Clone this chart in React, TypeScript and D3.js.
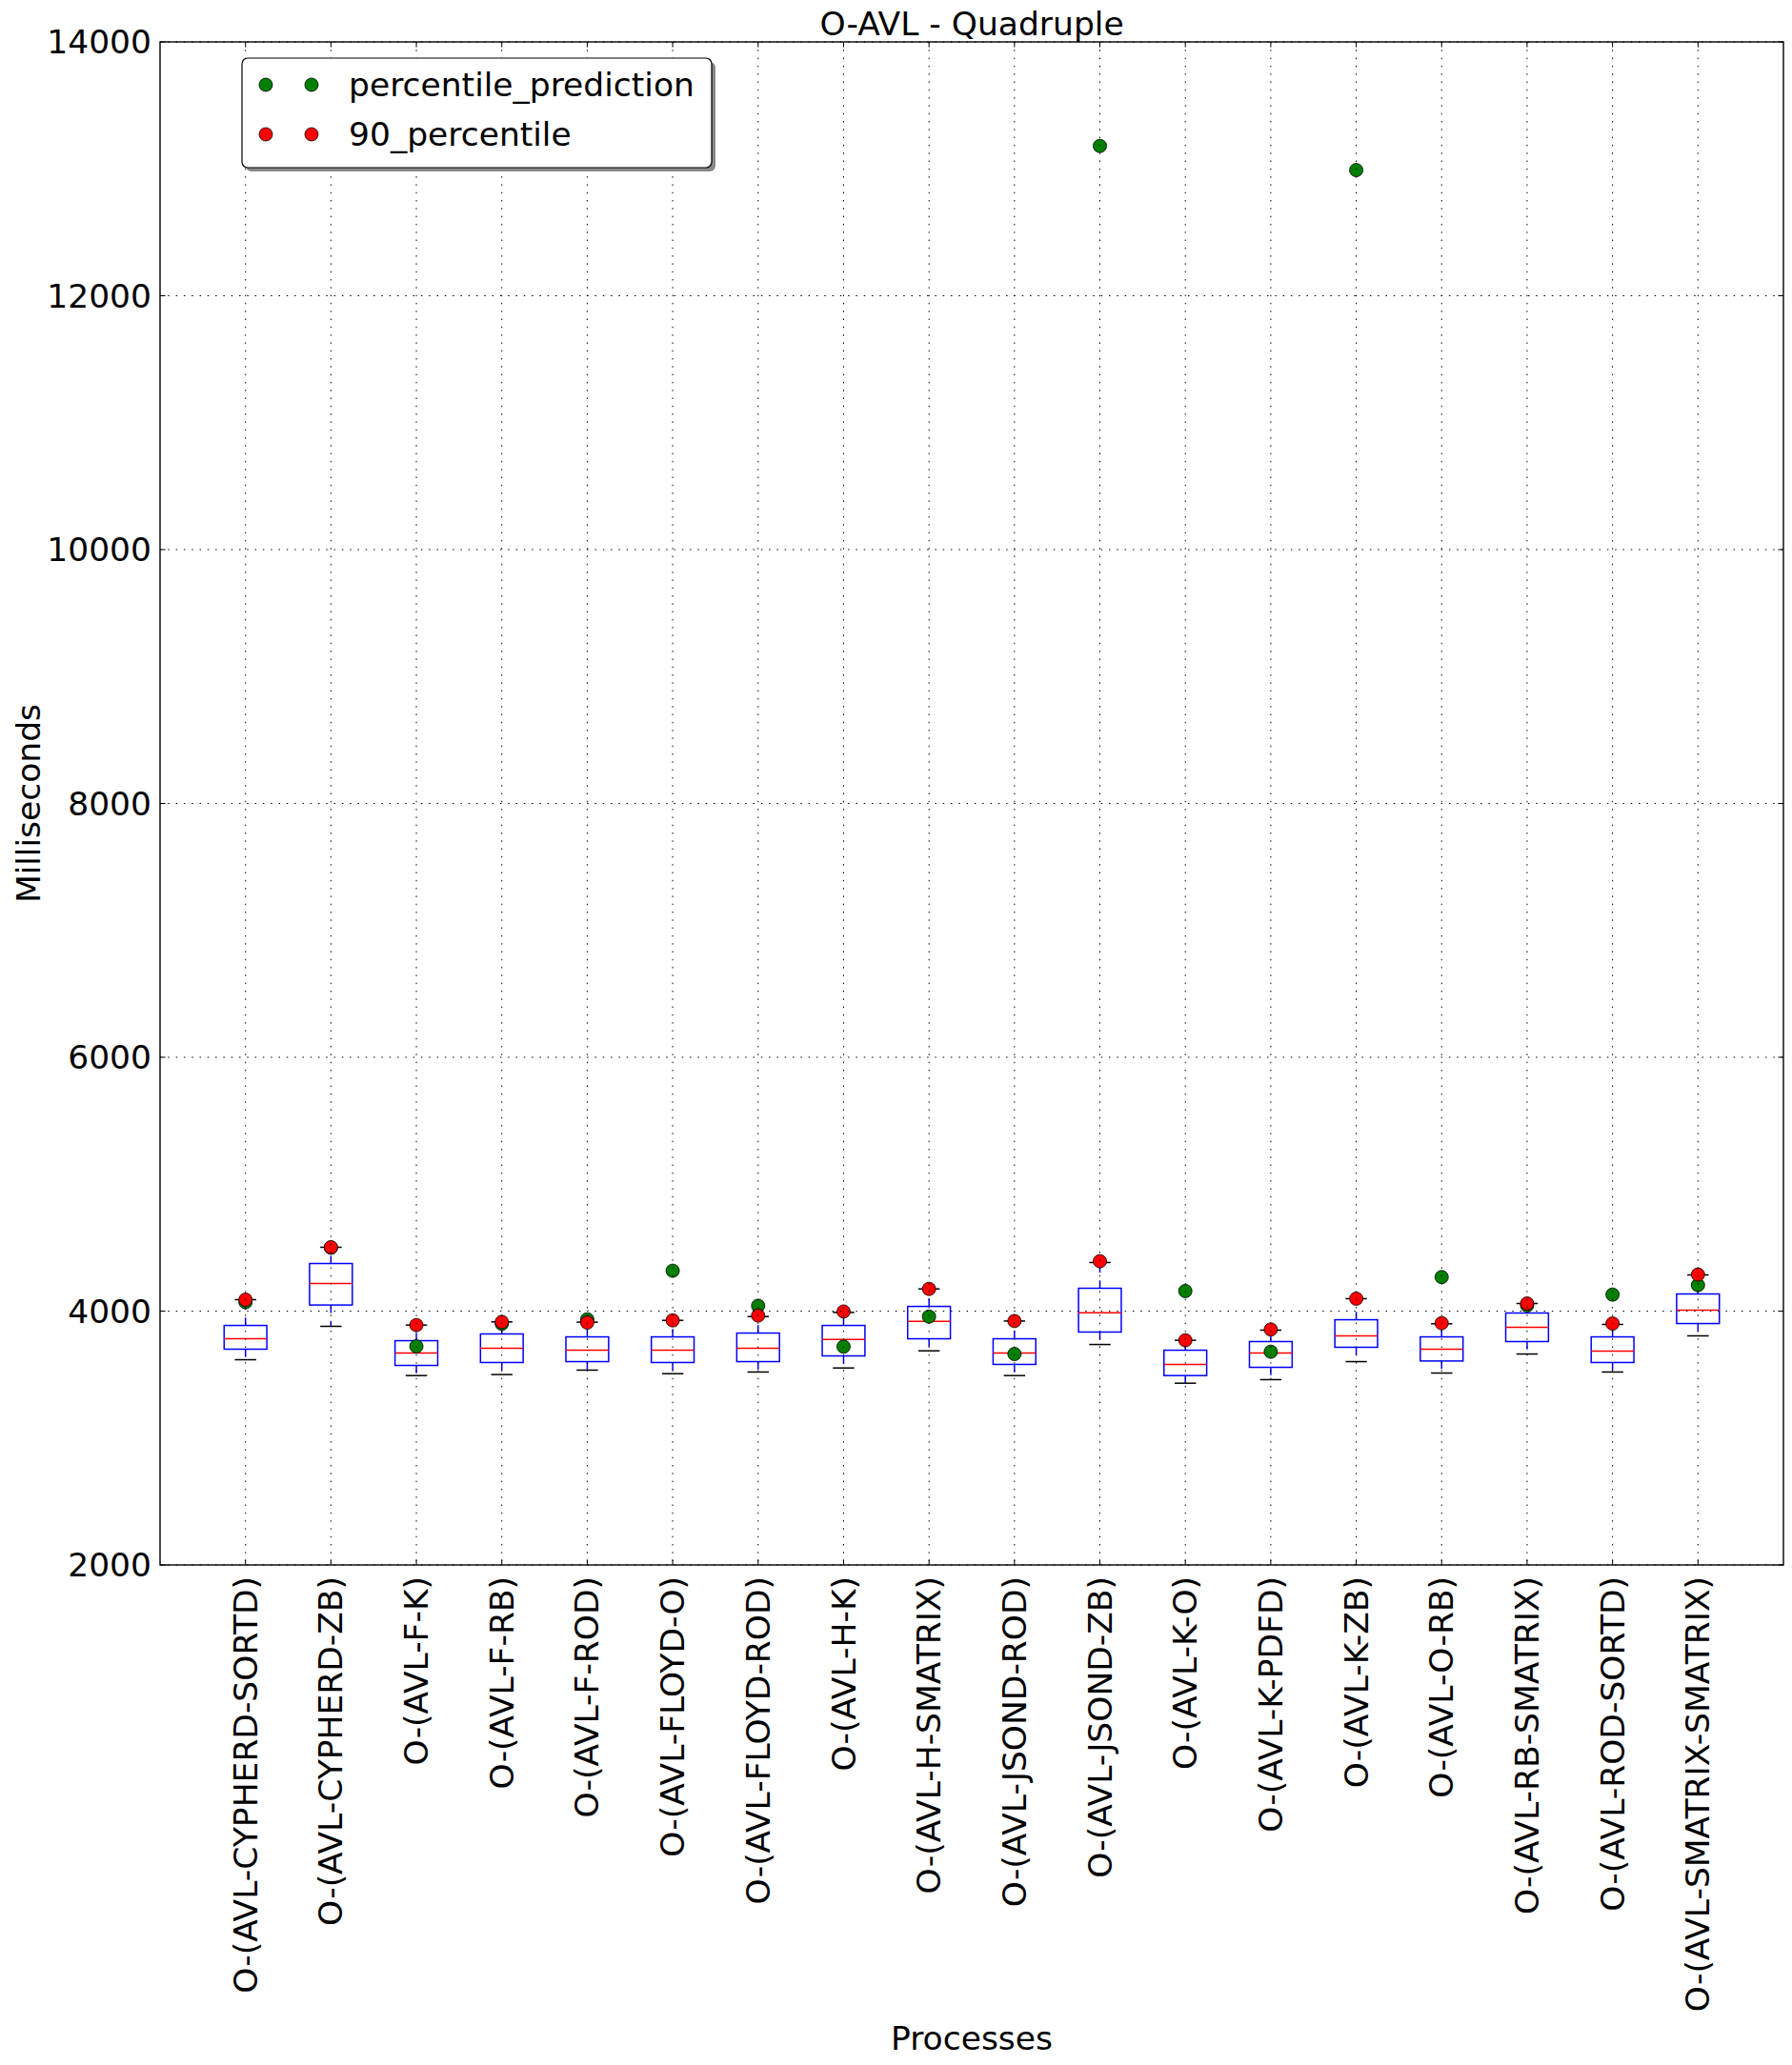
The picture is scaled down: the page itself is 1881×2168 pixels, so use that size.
import React from "react";
import * as d3 from "d3";

const categories = [
  "O-(AVL-CYPHERD-SORTD)", "O-(AVL-CYPHERD-ZB)", "O-(AVL-F-K)", "O-(AVL-F-RB)",
  "O-(AVL-F-ROD)", "O-(AVL-FLOYD-O)", "O-(AVL-FLOYD-ROD)", "O-(AVL-H-K)",
  "O-(AVL-H-SMATRIX)", "O-(AVL-JSOND-ROD)", "O-(AVL-JSOND-ZB)", "O-(AVL-K-O)",
  "O-(AVL-K-PDFD)", "O-(AVL-K-ZB)", "O-(AVL-O-RB)", "O-(AVL-RB-SMATRIX)",
  "O-(AVL-ROD-SORTD)", "O-(AVL-SMATRIX-SMATRIX)",
];
const whiskerLow = [3617, 3880, 3492, 3500, 3535, 3507, 3520, 3552, 3687, 3492, 3737, 3432, 3460, 3602, 3512, 3662, 3520, 3805];
const q1 = [3700, 4048, 3572, 3595, 3602, 3595, 3602, 3647, 3782, 3580, 3835, 3492, 3557, 3715, 3607, 3760, 3595, 3902];
const median = [3782, 4218, 3670, 3707, 3692, 3692, 3707, 3777, 3920, 3670, 3987, 3580, 3670, 3805, 3700, 3872, 3685, 4007];
const q3 = [3887, 4375, 3767, 3820, 3797, 3797, 3827, 3887, 4037, 3782, 4180, 3692, 3760, 3932, 3797, 3985, 3797, 4135];
const whiskerHigh = [4090, 4503, 3890, 3915, 3913, 3927, 3957, 3990, 4175, 3922, 4383, 3770, 3850, 4098, 3900, 4060, 3895, 4285];
const p90 = [4090, 4503, 3890, 3915, 3910, 3927, 3965, 3997, 4175, 3922, 4393, 3770, 3855, 4098, 3905, 4060, 3902, 4288];
const prediction = [4070, 4500, 3722, 3900, 3935, 4318, 4042, 3720, 3957, 3662, 13180, 4158, 3680, 12990, 4268, 4045, 4130, 4205];
const yTicks = [2000, 4000, 6000, 8000, 10000, 12000, 14000];
const legendLabels = ["percentile_prediction", "90_percentile"];
const legendColors = ["#007f00", "#ff0000"];

const W = 1881, H = 2168;
const L = 168, R = 1872, T = 44, B = 1643;
const FONT = "DejaVu Sans, sans-serif";
const FS = 34.5;

export default function App() {
  const x = d3.scaleLinear().domain([0, categories.length + 1]).range([L, R]);
  const y = d3.scaleLinear().domain([2000, 14000]).range([B, T]);
  const step = x(1) - x(0);
  const bw = step * 0.5;
  const cw = step * 0.25;
  const idx = d3.range(categories.length);
  const r = 7;

  return (
    <svg width={W} height={H} style={{ position: "absolute", left: 0, top: 0, background: "#fff" }} fontFamily={FONT}>
      <rect x={0} y={0} width={W} height={H} fill="#fff" />
      {idx.map((i) => {
        const cx = x(i + 1);
        return (
          <g key={"b" + i}>
            <line x1={cx} x2={cx} y1={y(q3[i])} y2={y(whiskerHigh[i])} stroke="#0000ff" strokeWidth={1.5} strokeDasharray="8.3,8.3" />
            <line x1={cx} x2={cx} y1={y(q1[i])} y2={y(whiskerLow[i])} stroke="#0000ff" strokeWidth={1.5} strokeDasharray="8.3,8.3" />
            <line x1={cx - cw / 2} x2={cx + cw / 2} y1={y(whiskerHigh[i])} y2={y(whiskerHigh[i])} stroke="#000" strokeWidth={1.5} />
            <line x1={cx - cw / 2} x2={cx + cw / 2} y1={y(whiskerLow[i])} y2={y(whiskerLow[i])} stroke="#000" strokeWidth={1.5} />
            <rect x={cx - bw / 2} y={y(q3[i])} width={bw} height={y(q1[i]) - y(q3[i])} fill="none" stroke="#0000ff" strokeWidth={1.5} />
            <line x1={cx - bw / 2} x2={cx + bw / 2} y1={y(median[i])} y2={y(median[i])} stroke="#ff0000" strokeWidth={1.5} />
          </g>
        );
      })}
      {idx.map((i) => (
        <circle key={"g" + i} cx={x(i + 1)} cy={y(prediction[i])} r={r} fill={legendColors[0]} stroke="#000" strokeWidth={0.8} />
      ))}
      {idx.map((i) => (
        <circle key={"p" + i} cx={x(i + 1)} cy={y(p90[i])} r={r} fill={legendColors[1]} stroke="#000" strokeWidth={0.8} />
      ))}
      {idx.map((i) => (
        <line key={"gx" + i} x1={x(i + 1)} x2={x(i + 1)} y1={T} y2={B} stroke="#000" strokeWidth={1} strokeDasharray="1.5,6.8" />
      ))}
      {yTicks.map((t) => (
        <line key={"gy" + t} x1={L} x2={R} y1={y(t)} y2={y(t)} stroke="#000" strokeWidth={1} strokeDasharray="1.5,6.8" />
      ))}
      {yTicks.map((t) => (
        <g key={"ty" + t}>
          <line x1={L} x2={L + 5.6} y1={y(t)} y2={y(t)} stroke="#000" strokeWidth={1} />
          <line x1={R} x2={R - 5.6} y1={y(t)} y2={y(t)} stroke="#000" strokeWidth={1} />
          <text x={L - 9} y={y(t)} dy="0.36em" textAnchor="end" fontSize={FS} fill="#000">{t}</text>
        </g>
      ))}
      {idx.map((i) => (
        <g key={"tx" + i}>
          <line x1={x(i + 1)} x2={x(i + 1)} y1={B} y2={B - 5.6} stroke="#000" strokeWidth={1} />
          <line x1={x(i + 1)} x2={x(i + 1)} y1={T} y2={T + 5.6} stroke="#000" strokeWidth={1} />
          <text transform={`translate(${x(i + 1)},${B + 12}) rotate(-90)`} dy="0.35em" textAnchor="end" fontSize={FS} fill="#000">{categories[i]}</text>
        </g>
      ))}
      <rect x={L} y={T} width={R - L} height={B - T} fill="none" stroke="#000" strokeWidth={1.4} />
      <rect x={258} y={65} width={493} height={115} rx={6} fill="#888" />
      <rect x={254} y={61} width={493} height={115} rx={6} fill="#fff" stroke="#000" strokeWidth={1.2} />
      {legendLabels.map((lab, k) => {
        const ly = 89 + k * 52;
        return (
          <g key={"lg" + k}>
            <circle cx={279} cy={ly} r={r} fill={legendColors[k]} stroke="#000" strokeWidth={0.8} />
            <circle cx={327} cy={ly} r={r} fill={legendColors[k]} stroke="#000" strokeWidth={0.8} />
            <text x={366} y={ly} dy="0.36em" fontSize={FS} fill="#000">{lab}</text>
          </g>
        );
      })}
      <text x={(L + R) / 2} y={37} textAnchor="middle" fontSize={FS} fill="#000">O-AVL - Quadruple</text>
      <text x={(L + R) / 2} y={2152} textAnchor="middle" fontSize={FS} fill="#000">Processes</text>
      <text transform={`translate(42,${(T + B) / 2}) rotate(-90)`} textAnchor="middle" fontSize={FS} fill="#000">Milliseconds</text>
    </svg>
  );
}
